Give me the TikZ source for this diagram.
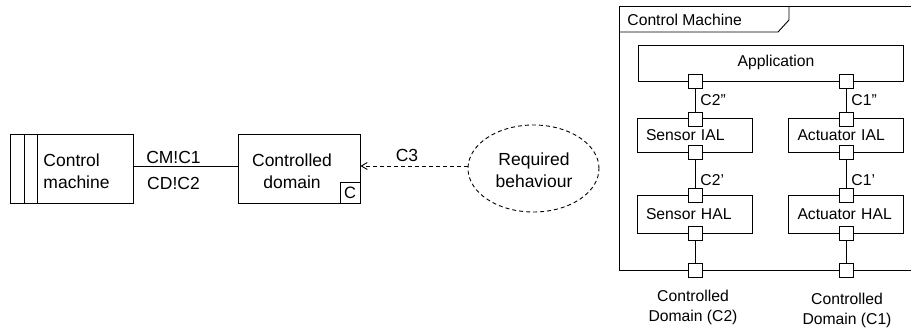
\documentclass[tikz,border=0pt]{standalone}
\usepackage{fontspec}
\setmainfont{Liberation Sans}
\usetikzlibrary{arrows.meta,shapes.geometric}
\begin{document}
\begin{tikzpicture}[x=1pt,y=-1pt,line width=0.9pt,
  bigtxt/.style={font=\fontsize{17.5}{22}\selectfont},
  smalltxt/.style={font=\fontsize{15.7}{20}\selectfont},
  domainbox/.style={draw,minimum width=122pt,minimum height=69pt,inner sep=0pt},
  compbox/.style={draw,smalltxt,text width=97pt,align=left,inner xsep=9pt,inner ysep=0pt,minimum height=34pt},
  port/.style={draw,fill=white,minimum size=14pt,inner sep=0pt},
  conn/.style={draw},
  dsh/.style={dash pattern=on 4pt off 3pt},
  lbl/.style={smalltxt,anchor=west,inner sep=0pt}]
\useasboundingbox (0,0) rectangle (911,331);

% ---------- left context diagram ----------
\node[domainbox,minimum width=123pt] (cm) at (71.5,168.5) {};
\draw (24,134) -- (24,203);
\draw (37,134) -- (37,203);
\node[bigtxt,anchor=west,align=left,inner sep=0pt] (cmt) at (43,171) {Control\\machine};

\node[domainbox] (cd) at (299,168.5) {};
\node[bigtxt,align=center,inner sep=0pt] (cdt) at (292,171) {Controlled\\domain};
\node[draw,minimum width=20pt,minimum height=21pt,inner sep=0pt,anchor=south east,font=\fontsize{16.5}{16.5}\selectfont] (cdc) at (cd.south east) {C};

\draw ([yshift=2.5pt]cm.east) -- ([yshift=2.5pt]cd.west);
\node[bigtxt,inner sep=0pt] (l1) at (173.5,157) {CM!C1};
\node[bigtxt,inner sep=0pt] (l2) at (173.5,183) {CD!C2};

\node[draw,dsh,ellipse,minimum width=131pt,minimum height=87pt,inner sep=0pt] (rb) at (533.5,168.5) {};
\node[bigtxt,align=center,inner sep=0pt] (rbt) at (534,170) {Required\\behaviour};
\draw[dsh,-{Straight Barb[length=6pt,width=7pt]}] ([yshift=2.5pt]rb.west) -- ([yshift=2.5pt]cd.east);
\node[bigtxt,inner sep=0pt] (c3) at (407,155) {C3};

% ---------- right: control machine frame ----------
\draw (940,6) -- (619,6) -- (619,270) -- (940,270);
\draw (619,32) -- (778,32) -- (789,20) -- (789,6);
\node[smalltxt,anchor=west,inner sep=0pt] (fr) at (627,20) {Control Machine};

\node[draw,smalltxt,minimum width=265pt,minimum height=36pt,inner sep=0pt] (app) at (770.5,63) {};
\node[smalltxt,inner sep=0pt] (appt) at (776,62) {Application};

\node[compbox] (sial) at (694.5,135.5) {Sensor IAL};
\node[compbox] (aial) at (846,135.5) {Actuator IAL};
\node[compbox,minimum height=38pt] (shal) at (694.5,214) {Sensor HAL};
\node[compbox,minimum height=38pt] (ahal) at (846,214) {Actuator HAL};

% ports
\node[port] (pa1) at (695,81) {};
\node[port] (pa2) at (846,81) {};
\node[port] (ps1) at (695,119) {};
\node[port] (ps2) at (695,152) {};
\node[port] (pa3) at (846,119) {};
\node[port] (pa4) at (846,152) {};
\node[port] (ps3) at (695,195) {};
\node[port] (ps4) at (695,233) {};
\node[port] (pa5) at (846,195) {};
\node[port] (pa6) at (846,233) {};
\node[port] (pf1) at (695,270) {};
\node[port] (pf2) at (846,270) {};

\draw[conn] (pa1) -- (ps1);
\draw[conn] (pa2) -- (pa3);
\draw[conn] (ps2) -- (ps3);
\draw[conn] (pa4) -- (pa5);
\draw[conn] (ps4) -- (pf1);
\draw[conn] (pa6) -- (pf2);

\node[lbl] (k1) at (700,100) {C2"};
\node[lbl] (k2) at (851,100) {C1"};
\node[lbl] (k3) at (700,180) {C2'};
\node[lbl] (k4) at (851,180) {C1'};

\node[smalltxt,align=center,inner sep=0pt] (d2) at (693,307) {Controlled\\Domain (C2)};
\node[smalltxt,align=center,inner sep=0pt] (d1) at (847,310) {Controlled\\Domain (C1)};
\end{tikzpicture}
\end{document}
